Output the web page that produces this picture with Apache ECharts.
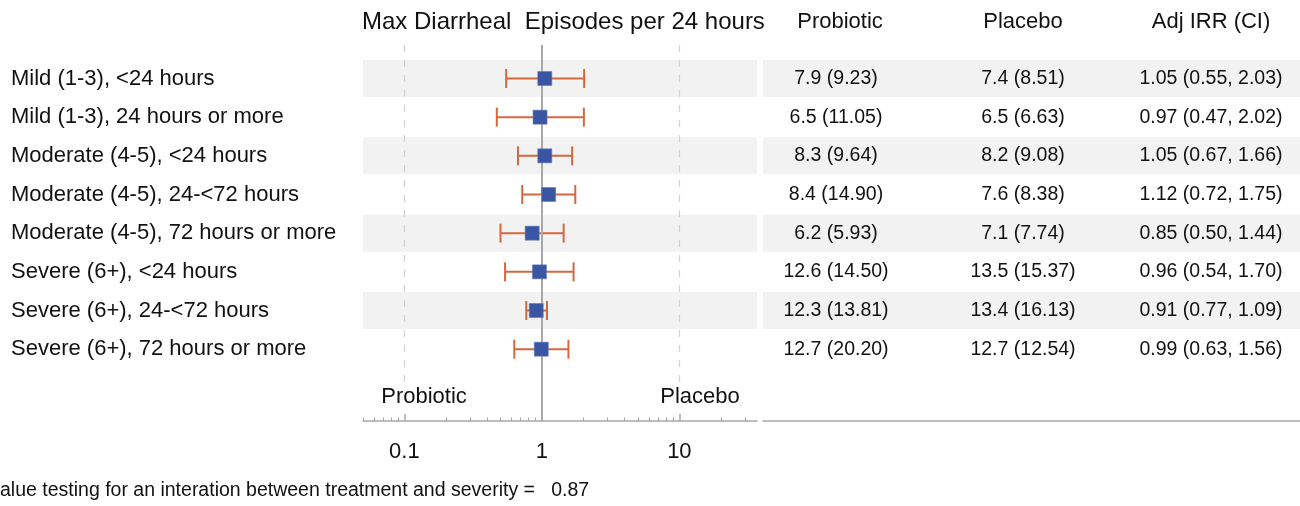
<!DOCTYPE html>
<html><head><meta charset="utf-8">
<script src="https://cdn.jsdelivr.net/npm/echarts@6/dist/echarts.min.js"></script>
<style>html,body{margin:0;padding:0;background:#fff}#c{width:1300px;height:506px}</style>
</head><body><div id="c"></div>
<script>
const rowLabels = [
  'Mild (1-3), <24 hours',
  'Mild (1-3), 24 hours or more',
  'Moderate (4-5), <24 hours',
  'Moderate (4-5), 24-<72 hours',
  'Moderate (4-5), 72 hours or more',
  'Severe (6+), <24 hours',
  'Severe (6+), 24-<72 hours',
  'Severe (6+), 72 hours or more'
];
const irr    = [1.05, 0.97, 1.05, 1.12, 0.85, 0.96, 0.91, 0.99];
const ciLow  = [0.55, 0.47, 0.67, 0.72, 0.50, 0.54, 0.77, 0.63];
const ciHigh = [2.03, 2.02, 1.66, 1.75, 1.44, 1.70, 1.09, 1.56];
const probiotic = ['7.9 (9.23)', '6.5 (11.05)', '8.3 (9.64)', '8.4 (14.90)', '6.2 (5.93)', '12.6 (14.50)', '12.3 (13.81)', '12.7 (20.20)'];
const placebo   = ['7.4 (8.51)', '6.5 (6.63)', '8.2 (9.08)', '7.6 (8.38)', '7.1 (7.74)', '13.5 (15.37)', '13.4 (16.13)', '12.7 (12.54)'];
const columnHeaders = ['Probiotic', 'Placebo', 'Adj IRR (CI)'];
const majorTicks = [0.1, 1, 10];
const minorTicks = [0.05, 0.06, 0.07, 0.08, 0.09, 0.2, 0.3, 0.4, 0.5, 0.6, 0.7, 0.8, 0.9, 2, 3, 4, 5, 6, 7, 8, 9, 20, 30];
const directionLabels = ['Probiotic', 'Placebo'];
const plotTitle = 'Max Diarrheal  Episodes per 24 hours';
const note = 'alue testing for an interation between treatment and severity =   0.87';

const adjIrr = irr.map((v, i) => v.toFixed(2) + ' (' + ciLow[i].toFixed(2) + ', ' + ciHigh[i].toFixed(2) + ')');

const FONT = 'Liberation Sans, Arial, sans-serif';
const TXT = '#111111';
const Y_MIN = 0.134, Y_MAX = 9.857;
const XMIN = 0.05, XMAX = 36.7;
const colX = [73, 260, 448];
const rows = rowLabels.map((_, i) => i + 1);
const bandRows = rows.filter(r => r % 2 === 1);
const bands = bandRows.map(r => [{ yAxis: r - 0.478 }, { yAxis: r + 0.478 }]);

const chart = echarts.init(document.getElementById('c'), null, { renderer: 'canvas' });

const tableSeries = [probiotic, placebo, adjIrr].map((col, c) => ({
  type: 'scatter', xAxisIndex: 2, yAxisIndex: 1, symbolSize: 0, silent: true,
  itemStyle: { opacity: 1 },
  data: col.map((s, i) => [colX[c], i + 1, s]),
  label: { show: true, position: 'inside', formatter: p => p.data[2], fontFamily: FONT, fontSize: 19.5, color: TXT, opacity: 1 },
  markArea: c === 0 ? { silent: true, itemStyle: { color: '#f2f2f2' }, data: bands } : undefined,
  z: 3
}));

chart.setOption({
  animation: false,
  grid: [
    { left: 363, width: 394, top: 45, height: 376 },
    { left: 763, right: 0, top: 45, height: 376 }
  ],
  xAxis: [
    { type: 'log', logBase: 10, gridIndex: 0, min: XMIN, max: XMAX, position: 'bottom',
      axisLine: { show: true, lineStyle: { color: '#a8a8a8', width: 1.5 } },
      axisTick: { show: true, inside: true, length: 7, customValues: majorTicks, lineStyle: { color: '#a8a8a8', width: 1.5 } },
      axisLabel: { show: true, customValues: majorTicks, formatter: v => String(v), fontFamily: FONT, fontSize: 22, color: TXT, margin: 20 },
      splitLine: { show: false }, minorTick: { show: false } },
    { type: 'log', logBase: 10, gridIndex: 0, min: XMIN, max: XMAX, position: 'bottom',
      axisLine: { show: false },
      axisTick: { show: true, inside: true, length: 3.5, customValues: minorTicks, lineStyle: { color: '#a8a8a8', width: 1 } },
      axisLabel: { show: false }, splitLine: { show: false } },
    { type: 'value', gridIndex: 1, min: 0, max: 537, position: 'bottom',
      axisLine: { show: true, lineStyle: { color: '#a8a8a8', width: 1.5 } },
      axisTick: { show: false }, axisLabel: { show: false }, splitLine: { show: false } }
  ],
  yAxis: [
    { type: 'value', gridIndex: 0, inverse: true, min: Y_MIN, max: Y_MAX,
      axisLine: { show: false }, axisTick: { show: false }, splitLine: { show: false },
      axisLabel: { show: true, customValues: rows, formatter: v => rowLabels[Math.round(v) - 1], align: 'left', margin: 352,
        fontFamily: FONT, fontSize: 22, color: TXT } },
    { type: 'value', gridIndex: 1, inverse: true, min: Y_MIN, max: Y_MAX, show: false }
  ],
  series: [
    { type: 'custom', xAxisIndex: 0, yAxisIndex: 0, silent: true,
      data: irr.map((v, i) => [ciLow[i], ciHigh[i], i + 1]),
      encode: { x: [0, 1], y: 2 },
      markArea: { silent: true, itemStyle: { color: '#f2f2f2' }, data: bands },
      renderItem: (params, api) => {
        const y = api.value(2);
        const p1 = api.coord([api.value(0), y]);
        const p2 = api.coord([api.value(1), y]);
        const h = 9.5;
        const style = { stroke: '#d3683f', lineWidth: 2, fill: null };
        return { type: 'group', children: [
          { type: 'line', shape: { x1: p1[0], y1: p1[1], x2: p2[0], y2: p2[1] }, style },
          { type: 'line', shape: { x1: p1[0], y1: p1[1] - h, x2: p1[0], y2: p1[1] + h }, style },
          { type: 'line', shape: { x1: p2[0], y1: p2[1] - h, x2: p2[0], y2: p2[1] + h }, style }
        ]};
      },
      z: 3 },
    { type: 'scatter', xAxisIndex: 0, yAxisIndex: 0, silent: true,
      data: irr.map((v, i) => [v, i + 1]),
      symbol: 'rect', symbolSize: 14,
      itemStyle: { color: '#3a56a3', borderColor: '#5f78b8', borderWidth: 0.6, opacity: 1 },
      markLine: { silent: true, symbol: 'none', label: { show: false },
        data: [
          [{ coord: [1, Y_MIN], lineStyle: { color: '#a8a8a8', width: 2, type: 'solid' } }, { coord: [1, Y_MAX] }],
          [{ coord: [0.1, Y_MIN], lineStyle: { color: '#d2d2d2', width: 1.2, type: [7, 8] } }, { coord: [0.1, 9.0] }],
          [{ coord: [10, Y_MIN], lineStyle: { color: '#d2d2d2', width: 1.2, type: [7, 8] } }, { coord: [10, 9.0] }]
        ] },
      z: 5 },
    ...tableSeries
  ],
  graphic: [
    { type: 'text', left: 362, top: 10, style: { text: plotTitle, fill: TXT, font: '24px ' + FONT }, z: 10 },
    ...columnHeaders.map((h, c) => ({ type: 'text', x: 763 + colX[c] + (c === 0 ? 4 : 0), y: 22,
      style: { text: h, fill: TXT, font: '22px ' + FONT, textAlign: 'center', textVerticalAlign: 'middle' } })),
    { type: 'text', x: 424, y: 397, style: { text: directionLabels[0], fill: TXT, font: '22px ' + FONT, textAlign: 'center', textVerticalAlign: 'middle' } },
    { type: 'text', x: 700, y: 397, style: { text: directionLabels[1], fill: TXT, font: '22px ' + FONT, textAlign: 'center', textVerticalAlign: 'middle' } },
    { type: 'text', x: 0, y: 491, style: { text: note, fill: TXT, font: '19.5px ' + FONT, textAlign: 'left', textVerticalAlign: 'middle' } }
  ]
});
</script>
</body></html>
